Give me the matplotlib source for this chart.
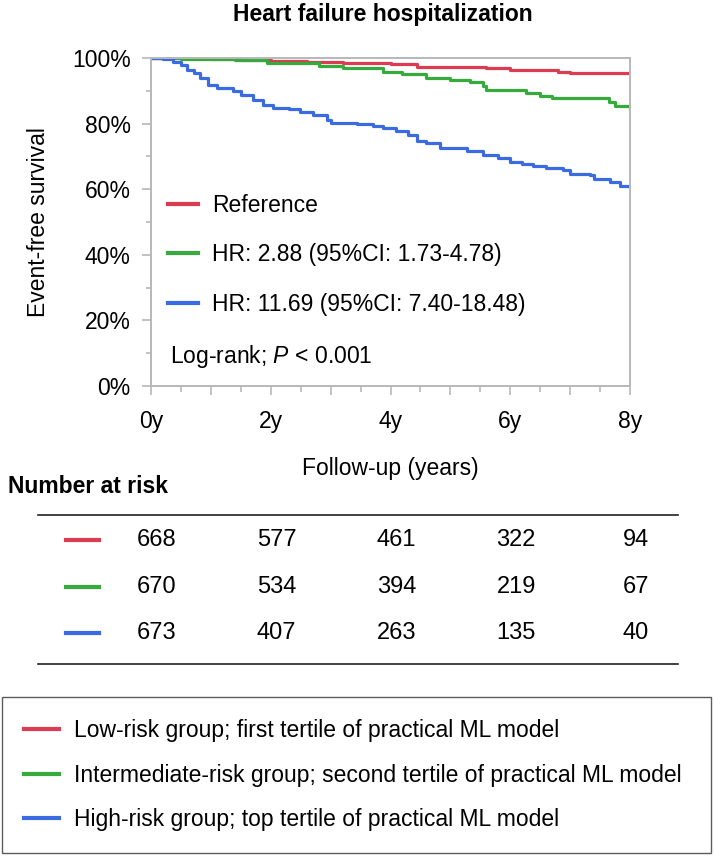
import matplotlib.pyplot as plt
from matplotlib.lines import Line2D
import numpy as np

plt.rcParams['font.family'] = ['Liberation Sans', 'DejaVu Sans']
plt.rcParams['mathtext.fontset'] = 'custom'
plt.rcParams['mathtext.it'] = 'Liberation Sans:italic'
plt.rcParams['mathtext.rm'] = 'Liberation Sans'

# data (years, event-free survival %)
low_t = [0, 0.5, 1.0, 1.5, 2.0, 2.6, 3.2, 4.0, 4.44, 5.6, 6.0, 6.8, 7.0, 8.0]
low_s = [100, 99.9, 99.7, 99.5, 99.2, 98.9, 98.6, 98.2, 97.4, 96.9, 96.3, 95.6, 95.3, 95.3]

mid_t = [0, 0.5, 1.4, 1.94, 2.8, 3.2, 3.54, 3.87, 4.2, 4.6, 5.0, 5.33, 5.55, 5.6,
         6.27, 6.5, 6.7, 7.5, 7.65, 7.75, 8.0]
mid_s = [100, 99.8, 99.4, 98.6, 97.7, 97.0, 96.8, 95.6, 95.0, 93.8, 93.3, 92.8, 91.5,
         90.2, 89.4, 88.5, 87.9, 87.7, 86.5, 85.3, 84.3]

high_t = [0, 0.2, 0.37, 0.5, 0.6, 0.72, 0.82, 0.95, 1.1, 1.37, 1.5, 1.7, 1.87, 2.04,
          2.3, 2.49, 2.7, 2.94, 3.0, 3.44, 3.7, 3.87, 4.1, 4.3, 4.44, 4.6, 4.82, 5.27,
          5.55, 5.8, 6.0, 6.2, 6.38, 6.6, 6.88, 7.0, 7.33, 7.4, 7.66, 7.83, 8.0]
high_s = [100, 99.6, 98.9, 97.8, 96.4, 95.3, 94.0, 91.8, 91.0, 89.8, 88.7, 87.3, 85.7,
          84.9, 84.3, 83.6, 82.5, 81.1, 80.1, 79.9, 79.2, 78.6, 77.6, 76.5, 74.7, 74.0,
          72.6, 71.6, 70.4, 69.5, 68.4, 67.8, 67.1, 66.5, 65.9, 64.5, 64.3, 63.0, 62.3,
          61.0, 60.6]

curve_labels = ["Reference", "HR: 2.88 (95%CI: 1.73-4.78)", "HR: 11.69 (95%CI: 7.40-18.48)"]
group_labels = ["Low-risk group; first tertile of practical ML model",
                "Intermediate-risk group; second tertile of practical ML model",
                "High-risk group; top tertile of practical ML model"]
risk_years = [0, 2, 4, 6, 8]
risk_low = [668, 577, 461, 322, 94]
risk_mid = [670, 534, 394, 219, 67]
risk_high = [673, 407, 263, 135, 40]

colors = ["#dc3c52", "#36aa3c", "#3a6be0"]
fs = 16.5

W, H = 714, 856
fig = plt.figure(figsize=(W / 100, H / 100), dpi=100)

# main KM plot
ax = fig.add_axes([151 / W, 1 - 386 / H, 479 / W, 328 / H])
curves = [(low_t, low_s), (mid_t, mid_s), (high_t, high_s)]
for (t, s), c in zip(curves, colors):
    ax.step(t, s, where="post", color=c, lw=2.3)
ax.set_xlim(0, 8)
ax.set_ylim(0, 100)
ax.set_xticks(np.arange(0, 9, 1))
ax.set_xticklabels([f"{int(v)}y" if v % 2 == 0 else "" for v in np.arange(0, 9, 1)])
ax.set_xticks(np.arange(0, 8.5, 0.5), minor=True)
ax.set_yticks(np.arange(0, 101, 20))
ax.set_yticklabels([f"{v}%" for v in range(0, 101, 20)])
ax.set_yticks(np.arange(0, 101, 10), minor=True)
for sp in ax.spines.values():
    sp.set_color("#b8b8b8")
    sp.set_linewidth(1.4)
ax.tick_params(axis="both", which="both", color="#b8b8b8", width=1.2, labelsize=fs)
ax.tick_params(axis="x", which="major", length=6.5, pad=11)
ax.tick_params(axis="x", which="minor", length=4.3)
ax.tick_params(axis="y", which="major", length=6.5, pad=8)
ax.tick_params(axis="y", which="minor", length=3.6)
ax.set_xlabel("Follow-up (years)", fontsize=fs, labelpad=17)
ax.set_ylabel("Event-free survival", fontsize=fs, labelpad=16)
ax.set_title("Heart failure hospitalization", fontsize=fs, fontweight="bold", pad=27, x=0.483)

handles = [Line2D([], [], color=c, lw=3) for c in colors]
ax.legend(handles, curve_labels, loc="upper left", bbox_to_anchor=(0.016, 0.613),
          frameon=False, fontsize=fs, handlelength=1.31, handletextpad=0.61,
          labelspacing=1.15, borderaxespad=0)
ax.text(0.04, 0.09, "Log-rank; $P$ < 0.001", transform=ax.transAxes, fontsize=fs,
        va="center", ha="left")

# number at risk table
fig.text(8 / W, 1 - 486 / H, "Number at risk", fontsize=fs, fontweight="bold",
         va="center", ha="left")
axt = fig.add_axes([151 / W, 1 - 680 / H, 479 / W, 180 / H])
axt.set_xlim(0, 8)
axt.set_ylim(680, 500)
axt.axis("off")
px = 8 / 479.0
axt.plot([(38 - 151) * px, (678 - 151) * px], [515, 515], color="#222222", lw=1.2, clip_on=False)
axt.plot([(38 - 151) * px, (678 - 151) * px], [664, 664], color="#222222", lw=1.2, clip_on=False)
rows = [risk_low, risk_mid, risk_high]
row_y = [540, 587, 633]
for vals, c, y in zip(rows, colors, row_y):
    axt.plot([(66 - 151) * px, (99 - 151) * px], [y, y], color=c, lw=3, clip_on=False)
    for yr, v in zip(risk_years, vals):
        axt.text(yr + 0.1, y, str(v), fontsize=17, ha="center", va="center")

# group legend box
fig.legend(handles, group_labels, loc="lower left",
           bbox_to_anchor=(2 / W, 3 / H, 709 / W, 153 / H), mode="expand",
           fontsize=fs, frameon=True, fancybox=False, edgecolor="#333333",
           handlelength=1.53, handletextpad=0.65, labelspacing=0.94, borderpad=0.95,
           borderaxespad=0)
fig.legends[0].get_frame().set_linewidth(1.0)

fig.savefig("out.png", dpi=100)
